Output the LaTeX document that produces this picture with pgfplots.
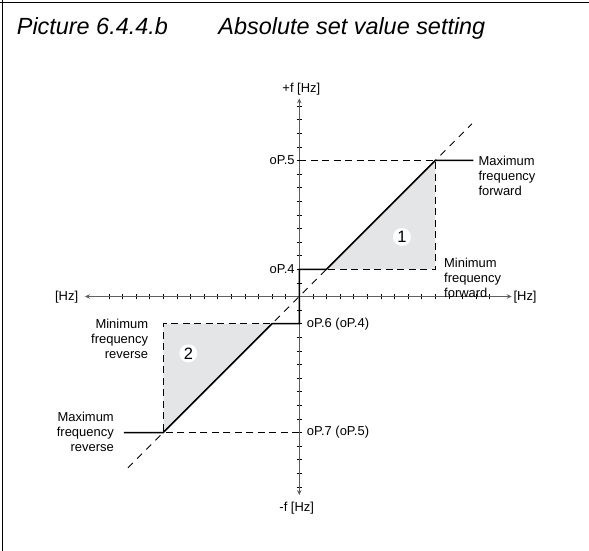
\documentclass[border=0pt]{standalone}
\usepackage{fontspec}
\setmainfont{Liberation Sans}
\usepackage{pgfplots}
\pgfplotsset{compat=1.18}
\usetikzlibrary{arrows.meta}

\definecolor{fillgray}{RGB}{228,229,231}
\definecolor{axisgray}{RGB}{95,95,95}

\begin{document}
\begin{tikzpicture}[
  lbl/.style={font=\fontsize{13}{15}\selectfont, inner sep=0pt},
  guide/.style={black, line width=0.9bp, dash pattern=on 7bp off 4.5bp},
  mark1/.style={circle, fill=white, inner sep=0pt, minimum size=18bp, font=\fontsize{16.5}{17}\selectfont},
]
% page = 589 x 551 bp, axis origin at pixel (299.3, 296.5)
\useasboundingbox (-299.3bp,-254.5bp) rectangle (289.7bp,296.5bp);
% frame (top and left edge of the box)
\draw[line width=1.8bp] (-296.8bp,296.5bp) -- (-296.8bp,-254.5bp);
\draw[line width=1.8bp] (-299.3bp,294bp) -- (289.7bp,294bp);
% heading
\node[anchor=base west, inner sep=0pt, font=\fontsize{23.5}{28}\selectfont\itshape]
  at (-282.6bp,261.5bp) {Picture 6.4.4.b};
\node[anchor=base west, inner sep=0pt, font=\fontsize{23.5}{28}\selectfont\itshape]
  at (-81bp,261.5bp) {Absolute set value setting};

\begin{axis}[
  at={(0,0)}, anchor=origin,
  x=13.6bp, y=13.6bp,
  xmin=-15.76, xmax=15.62, ymin=-14.6, ymax=14.57,
  axis lines=middle,
  axis line style={axisgray, line width=0.8bp},
  every inner x axis line/.append style={{Stealth[length=5bp,width=4.5bp]}-{Stealth[length=5bp,width=4.5bp]}},
  every inner y axis line/.append style={{Stealth[length=5bp,width=4.5bp]}-{Stealth[length=5bp,width=4.5bp]}},
  xtick={-14,-13,...,-1,1,2,...,14},
  ytick={-14,-13,...,-1,1,2,...,14},
  xticklabels={}, yticklabels={},
  tick align=center, major tick length=5.5bp,
  tick style={black, line width=0.6bp},
  clip=false,
]
% shaded ranges
\addplot[fill=fillgray, draw=none] coordinates {(2,2) (10,10) (10,2)} -- cycle;
\addplot[fill=fillgray, draw=none] coordinates {(-2,-2) (-10,-2) (-10,-10)} -- cycle;
% dashed diagonal
\addplot[black, line width=0.8bp, dash pattern=on 7bp off 6bp] coordinates {(-12.6,-12.6) (12.7,12.7)};
% dashed guides
\addplot[guide] coordinates {(0,10) (10,10) (10,2) (2,2)};
\addplot[guide] coordinates {(0,-10) (-10,-10) (-10,-2) (-2,-2)};
% characteristic
\addplot[black, line width=1.5bp] coordinates {(12.8,10) (10,10) (2,2) (0,2) (0,-2) (-2,-2) (-10,-10) (-12.9,-10)};

% level labels
\node[lbl, anchor=east, xshift=-4.5bp] at (axis cs:0,10) {oP.5};
\node[lbl, anchor=east, xshift=-4.5bp] at (axis cs:0,2) {oP.4};
\node[lbl, anchor=west, xshift=7.4bp] at (axis cs:0,-2) {oP.6 (oP.4)};
\node[lbl, anchor=west, xshift=7.4bp] at (axis cs:0,-10) {oP.7 (oP.5)};
% descriptions
\node[lbl, align=left, anchor=north west, xshift=5bp, yshift=4.65bp] at (axis cs:12.8,10) {Maximum\\frequency\\forward};
\node[lbl, align=left, anchor=north west, xshift=8.7bp, yshift=11.25bp] at (axis cs:10,2) {Minimum\\frequency\\forward};
\node[lbl, align=right, anchor=north east, xshift=-15bp, yshift=4.65bp] at (axis cs:-10,-2) {Minimum\\frequency\\reverse};
\node[lbl, align=right, anchor=north east, xshift=-9.9bp, yshift=20.25bp] at (axis cs:-12.9,-10) {Maximum\\frequency\\reverse};
% axis names
\node[lbl, anchor=base] at (axis cs:0.15,14.99) {+f [Hz]};
\node[lbl, anchor=base] at (axis cs:-0.19,-15.82) {-f [Hz]};
\node[lbl, anchor=base east] at (axis cs:-16.25,-0.31) {[Hz]};
\node[lbl, anchor=base west] at (axis cs:15.74,-0.31) {[Hz]};
% range markers
\node[mark1] at (axis cs:7.55,4.38) {1};
\node[mark1] at (axis cs:-8.16,-4.18) {2};
\end{axis}
\end{tikzpicture}
\end{document}
